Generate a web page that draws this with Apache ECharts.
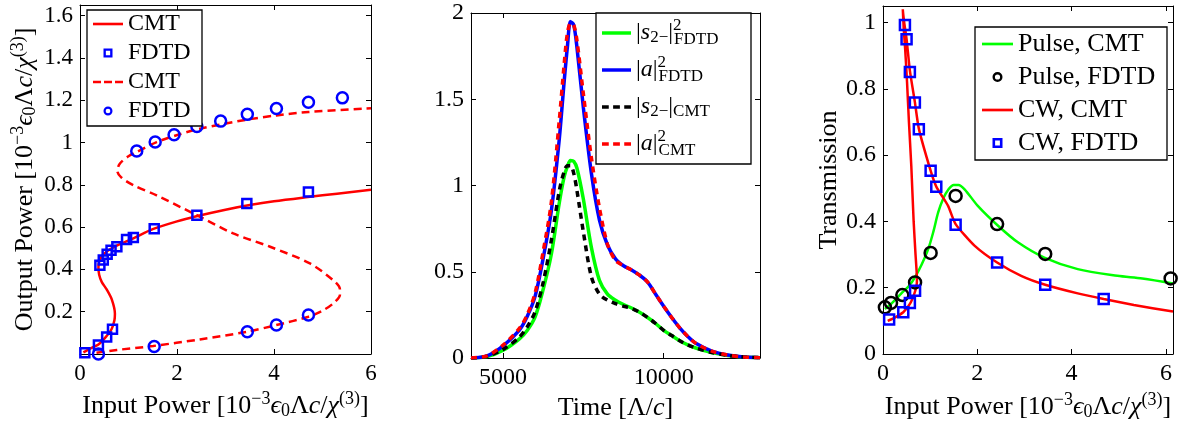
<!DOCTYPE html>
<html><head><meta charset="utf-8">
<script src="https://cdn.jsdelivr.net/npm/echarts@6/dist/echarts.min.js"></script>
<style>html,body{margin:0;padding:0;background:#fff}#c{width:1195px;height:421px}</style>
</head><body><div id="c"></div><script>
// ---------- Panel 1: output vs input power (bistability) ----------
const p1CmtSolid = [[0.07,0.008],[0.25,0.03],[0.38,0.045],[0.53,0.08],[0.65,0.117],[0.71,0.16],[0.72,0.19],[0.66,0.255],[0.55,0.305],[0.45,0.34],[0.395,0.375],[0.38,0.41],[0.40,0.44],[0.48,0.47],[0.62,0.495],[0.8,0.517],[1.1,0.547],[1.5,0.59],[2.0,0.627],[2.4,0.651],[3.0,0.682],[3.5,0.704],[4.0,0.722],[4.7,0.742],[5.3,0.758],[6.0,0.776]];
const p1FdtdSquares = [[0.1,0.006],[0.38,0.042],[0.55,0.08],[0.67,0.117],[0.41,0.42],[0.48,0.444],[0.56,0.472],[0.64,0.49],[0.76,0.507],[0.96,0.541],[1.1,0.551],[1.53,0.592],[2.41,0.656],[3.44,0.711],[4.71,0.766]];
const p1CmtDashed = [[0.34,0.006],[0.76,0.019],[1.51,0.038],[2.47,0.069],[3.44,0.105],[4.05,0.137],[4.71,0.176],[5.0,0.205],[5.22,0.239],[5.36,0.28],[5.36,0.305],[5.26,0.341],[4.74,0.428],[3.92,0.507],[3.16,0.57],[2.34,0.664],[1.58,0.75],[1.1,0.798],[0.85,0.835],[0.77,0.865],[0.82,0.90],[1.0,0.935],[1.17,0.955],[1.58,1.002],[1.99,1.034],[2.47,1.065],[3.44,1.108],[4.05,1.128],[4.71,1.144],[6.0,1.162]];
const p1FdtdCircles = [[0.38,0.0],[1.53,0.035],[3.45,0.105],[4.05,0.137],[4.71,0.184],[1.17,0.96],[1.55,1.002],[1.94,1.037],[2.41,1.076],[2.9,1.101],[3.45,1.133],[4.05,1.161],[4.71,1.19],[5.41,1.211]];
const p1XTicks = [0,2,4,6];
const p1YTicks = [0.2,0.4,0.6,0.8,1,1.2,1.4,1.6];

// ---------- Panel 2: time traces ----------
const time = [4000,4500,5000,5500,5750,6000,6250,6500,6750,6900,7000,7100,7200,7300,7500,7750,8000,8250,8500,8750,9000,9250,9500,9750,10000,10250,10500,10750,11000,11500,12000,12500,13000];
const s2Fdtd = [0,0.008,0.045,0.11,0.16,0.24,0.4,0.6,0.9,1.05,1.11,1.145,1.14,1.1,0.92,0.64,0.45,0.37,0.335,0.31,0.29,0.265,0.235,0.2,0.16,0.13,0.1,0.076,0.058,0.032,0.015,0.006,0.002];
const aFdtd  = [0,0.012,0.07,0.16,0.24,0.36,0.58,0.85,1.27,1.6,1.8,1.95,1.93,1.8,1.45,1.07,0.8,0.655,0.575,0.535,0.51,0.48,0.44,0.37,0.3,0.235,0.175,0.125,0.085,0.04,0.017,0.006,0.002];
const s2Cmt  = [0,0.01,0.05,0.12,0.18,0.27,0.44,0.68,0.97,1.08,1.115,1.115,1.07,0.97,0.73,0.47,0.37,0.335,0.315,0.3,0.288,0.265,0.235,0.2,0.16,0.13,0.1,0.076,0.058,0.032,0.015,0.006,0.002];
const aCmt   = [0,0.013,0.075,0.17,0.25,0.38,0.62,0.9,1.38,1.7,1.88,1.94,1.93,1.84,1.53,1.16,0.87,0.66,0.565,0.535,0.51,0.48,0.44,0.37,0.3,0.235,0.175,0.125,0.085,0.04,0.017,0.006,0.002];
const p2XTicks = [5000,10000];
const p2YTicks = [0,0.5,1,1.5,2];

// ---------- Panel 3: transmission ----------
const pulseCmt = [[0.04,0.136],[0.2,0.155],[0.39,0.183],[0.55,0.205],[0.68,0.232],[0.82,0.27],[0.96,0.317],[1.07,0.37],[1.17,0.427],[1.28,0.47],[1.38,0.495],[1.5,0.51],[1.6,0.51],[1.73,0.497],[2.01,0.447],[2.44,0.387],[2.86,0.337],[3.42,0.291],[4.13,0.256],[4.97,0.236],[5.5,0.228],[6.15,0.213]];
const pulseFdtd = [[0.04,0.141],[0.17,0.154],[0.41,0.178],[0.68,0.216],[1.01,0.305],[1.54,0.477],[2.42,0.392],[3.44,0.302],[6.1,0.228]];
const cwCmt = [[0.1,0.1],[0.25,0.11],[0.43,0.126],[0.57,0.151],[0.66,0.18],[0.71,0.205],[0.72,0.225],[0.69,0.3],[0.65,0.4],[0.6,0.568],[0.55,0.7],[0.51,0.82],[0.47,0.92],[0.44,0.98],[0.42,1.04],[0.45,1.0],[0.5,0.95],[0.57,0.855],[0.676,0.76],[0.76,0.68],[1.01,0.553],[1.13,0.505],[1.38,0.447],[1.54,0.392],[1.94,0.327],[2.42,0.276],[2.93,0.236],[3.44,0.209],[4.13,0.183],[4.68,0.166],[5.32,0.148],[6.15,0.128]];
const cwFdtd = [[0.13,0.104],[0.43,0.126],[0.57,0.154],[0.68,0.191],[0.465,0.993],[0.5,0.95],[0.57,0.851],[0.676,0.759],[0.76,0.678],[1.01,0.553],[1.13,0.505],[1.54,0.39],[2.42,0.276],[3.44,0.209],[4.68,0.166]];
const p3XTicks = [0,2,4,6];
const p3YTicks = [0,0.2,0.4,0.6,0.8,1];

const F = 'Liberation Serif';
function rich(S, lh) {
  const sm = Math.round(S * 0.7);
  const base = {fontFamily: F, color: '#000'};
  const o = {
    n: Object.assign({fontSize: S}, base),
    i: Object.assign({fontSize: S, fontStyle: 'italic'}, base),
    sup: Object.assign({fontSize: sm, padding: [0, 0, Math.round(S * 0.55), 0]}, base),
    sub: Object.assign({fontSize: sm, padding: [Math.round(S * 0.4), 0, 0, 0]}, base),
    sw: Object.assign({fontSize: sm, width: 1, padding: [0, 0, Math.round(S * 0.6), 0]}, base),
    sb: Object.assign({fontSize: sm, padding: [Math.round(S * 0.55), 0, 0, 0]}, base)
  };
  if (lh) Object.keys(o).forEach(k => o[k].lineHeight = lh);
  return o;
}
const powerName = '{n|Power [10}{sup|−3}{i|ϵ}{sub|0}{n|Λ}{i|c}{n|/}{i|χ}{sup|(3)}{n|]}';

function xAx(g, min, max, ticks, fs, name, gap, top) {
  return {type: 'value', gridIndex: g, min: min, max: max, position: top ? 'top' : 'bottom',
    axisLine: {show: true, onZero: false, lineStyle: {color: '#000', width: 1}},
    axisTick: {show: true, inside: true, length: 5, customValues: ticks, lineStyle: {color: '#000'}},
    axisLabel: {show: !top, customValues: ticks, fontFamily: F, fontSize: fs, color: '#000', margin: 8,
      formatter: v => String(v)},
    splitLine: {show: false},
    name: top ? '' : name, nameLocation: 'middle', nameGap: gap,
    nameTextStyle: {fontFamily: F, fontSize: 26, color: '#000', rich: rich(26)}};
}
function yAx(g, min, max, ticks, fs, name, gap, right) {
  return {type: 'value', gridIndex: g, min: min, max: max, position: right ? 'right' : 'left',
    axisLine: {show: true, onZero: false, lineStyle: {color: '#000', width: 1}},
    axisTick: {show: true, inside: true, length: 5, customValues: ticks, lineStyle: {color: '#000'}},
    axisLabel: {show: !right, customValues: ticks, fontFamily: F, fontSize: fs, color: '#000', margin: 7,
      formatter: v => String(v)},
    splitLine: {show: false},
    name: right ? '' : name, nameLocation: 'middle', nameGap: gap, nameRotate: 90,
    nameTextStyle: {fontFamily: F, fontSize: 26, color: '#000', rich: rich(26)}};
}

function lineS(name, data, xi, color, width, type, smooth) {
  return {name: name, type: 'line', xAxisIndex: xi, yAxisIndex: xi, data: data, symbol: 'none',
    smooth: smooth, color: color, lineStyle: {color: color, width: width, type: type}, z: 2};
}
function scatS(name, data, xi, color, sym, size, bw) {
  return {name: name, type: 'scatter', xAxisIndex: xi, yAxisIndex: xi, data: data, symbol: sym,
    symbolSize: size, color: color, itemStyle: {color: 'rgba(255,255,255,0)', borderColor: color, borderWidth: bw, opacity: 1}, z: 3};
}
const zip = (xs, ys) => xs.map((x, i) => [x, ys[i]]);

// legend icon shapes
const ICON_LINE = 'path://M0,0H30V2.6H0Z';
const ICON_DASH = 'path://M0,0H8V2.6H0Z M11,0H19V2.6H11Z M22,0H30V2.6H22Z';
const ICON_LINE_T = 'path://M0,0H30V3.6H0Z';
const ICON_DASH_T = 'path://M0,0H7V3.6H0Z M11.5,0H18.5V3.6H11.5Z M23,0H30V3.6H23Z';
const ICON_SQ = 'path://M0,0H10V10H0Z M2.6,2.6V7.4H7.4V2.6Z';
const ICON_CIRC = 'path://M5,0A5,5,0,1,1,5,10A5,5,0,1,1,5,0Z M5,2.4A2.6,2.6,0,1,0,5,7.6A2.6,2.6,0,1,0,5,2.4Z';
const li = (name, icon, color) => ({name: name, icon: icon, itemStyle: {color: color, borderWidth: 0, borderColor: 'rgba(0,0,0,0)'}});

const legendNames1 = {'CMT-solid': 'CMT', 'FDTD-sq': 'FDTD', 'CMT-dash': 'CMT', 'FDTD-circ': 'FDTD'};
const legendNames2 = {
  's2FDTD': '{n||}{i|s}{sub|2−}{n||}{sw|2}{sb|FDTD}',
  'aFDTD': '{n||}{i|a}{n||}{sw|2}{sb|FDTD}',
  's2CMT': '{n||}{i|s}{sub|2−}{n||}{sub|CMT}',
  'aCMT': '{n||}{i|a}{n||}{sw|2}{sb|CMT}'
};

const option = {
  animation: false,
  backgroundColor: '#fff',
  grid: [
    {left: 80, top: 5, width: 291, height: 349, outerBoundsMode: 'none'},
    {left: 471, top: 13, width: 289, height: 345, outerBoundsMode: 'none'},
    {left: 883, top: 6, width: 290, height: 348, outerBoundsMode: 'none'}
  ],
  xAxis: [
    xAx(0, 0, 6, p1XTicks, 23, '{n|Input }' + powerName, 28, false),
    xAx(0, 0, 6, p1XTicks, 23, '', 0, true),
    xAx(1, 4000, 13000, p2XTicks, 24, '{n|Time [Λ/}{i|c}{n|]}', 28, false),
    xAx(1, 4000, 13000, p2XTicks, 24, '', 0, true),
    xAx(2, 0, 6.15, p3XTicks, 24, '{n|Input }' + powerName, 28, false),
    xAx(2, 0, 6.15, p3XTicks, 24, '', 0, true)
  ],
  yAxis: [
    yAx(0, 0, 1.65, p1YTicks, 23, '{n|Output }' + powerName, 39, false),
    yAx(0, 0, 1.65, p1YTicks, 23, '', 0, true),
    yAx(1, 0, 2, p2YTicks, 24, '', 40, false),
    yAx(1, 0, 2, p2YTicks, 24, '', 0, true),
    yAx(2, 0, 1.05, p3YTicks, 24, '{n|Transmission}', 37, false),
    yAx(2, 0, 1.05, p3YTicks, 24, '', 0, true)
  ],
  legend: [
    {left: 87, top: 10, orient: 'vertical', selectedMode: false,
     data: [li('CMT-solid', ICON_LINE, '#ff0000'), li('FDTD-sq', ICON_SQ, '#0000ff'),
            li('CMT-dash', ICON_DASH, '#ff0000'), li('FDTD-circ', ICON_CIRC, '#0000ff')],
     formatter: n => legendNames1[n], symbolKeepAspect: true,
     itemWidth: 30, itemHeight: 9, itemGap: 5, padding: [2, 6, 3, 6],
     borderColor: '#000', borderWidth: 1.3, backgroundColor: '#fff',
     textStyle: {fontFamily: F, fontSize: 24, lineHeight: 22, color: '#000', width: 68}},
    {left: 596, top: 13, orient: 'vertical', selectedMode: false,
     data: [li('s2FDTD', ICON_LINE_T, '#00ff00'), li('aFDTD', ICON_LINE_T, '#0000ff'),
            li('s2CMT', ICON_DASH_T, '#000000'), li('aCMT', ICON_DASH_T, '#ff0000')],
     formatter: n => legendNames2[n], symbolKeepAspect: true,
     itemWidth: 29, itemHeight: 9, itemGap: 3, padding: [3, 4, 3, 6],
     borderColor: '#000', borderWidth: 1.3, backgroundColor: '#fff',
     textStyle: {fontFamily: F, fontSize: 24, lineHeight: 34, color: '#000', width: 111, rich: rich(24, 34)}},
    {left: 975, top: 27, orient: 'vertical', selectedMode: false,
     data: [li('Pulse, CMT', ICON_LINE, '#00ff00'), li('Pulse, FDTD', ICON_CIRC, '#000000'),
            li('CW, CMT', ICON_LINE, '#ff0000'), li('CW, FDTD', ICON_SQ, '#0000ff')],
     symbolKeepAspect: true,
     itemWidth: 31, itemHeight: 10, itemGap: 5, padding: [3, 4, 3, 7],
     borderColor: '#000', borderWidth: 1.3, backgroundColor: '#fff',
     textStyle: {fontFamily: F, fontSize: 26, lineHeight: 28, color: '#000', width: 145}}
  ],
  series: [
    lineS('CMT-solid', p1CmtSolid, 0, '#ff0000', 2.5, 'solid', 0.3),
    scatS('FDTD-sq', p1FdtdSquares, 0, '#0000ff', 'rect', 9, 2.5),
    lineS('CMT-dash', p1CmtDashed, 0, '#ff0000', 2.5, [8, 5], 0.3),
    scatS('FDTD-circ', p1FdtdCircles, 0, '#0000ff', 'circle', 11, 2.5),

    lineS('s2FDTD', zip(time, s2Fdtd), 2, '#00ff00', 3.5, 'solid', 0.3),
    lineS('aFDTD', zip(time, aFdtd), 2, '#0000ff', 3.5, 'solid', 0.3),
    lineS('s2CMT', zip(time, s2Cmt), 2, '#000000', 3.5, [6, 5], 0.3),
    lineS('aCMT', zip(time, aCmt), 2, '#ff0000', 3.5, [6, 5], 0.3),

    lineS('Pulse, CMT', pulseCmt, 4, '#00ff00', 2.5, 'solid', 0.3),
    scatS('Pulse, FDTD', pulseFdtd, 4, '#000000', 'circle', 12, 2.5),
    lineS('CW, CMT', cwCmt, 4, '#ff0000', 2.5, 'solid', 0.2),
    scatS('CW, FDTD', cwFdtd, 4, '#0000ff', 'rect', 10, 2.5)
  ]
};
const chart = echarts.init(document.getElementById('c'), null, {renderer: 'canvas'});
chart.setOption(option);
</script></body></html>
